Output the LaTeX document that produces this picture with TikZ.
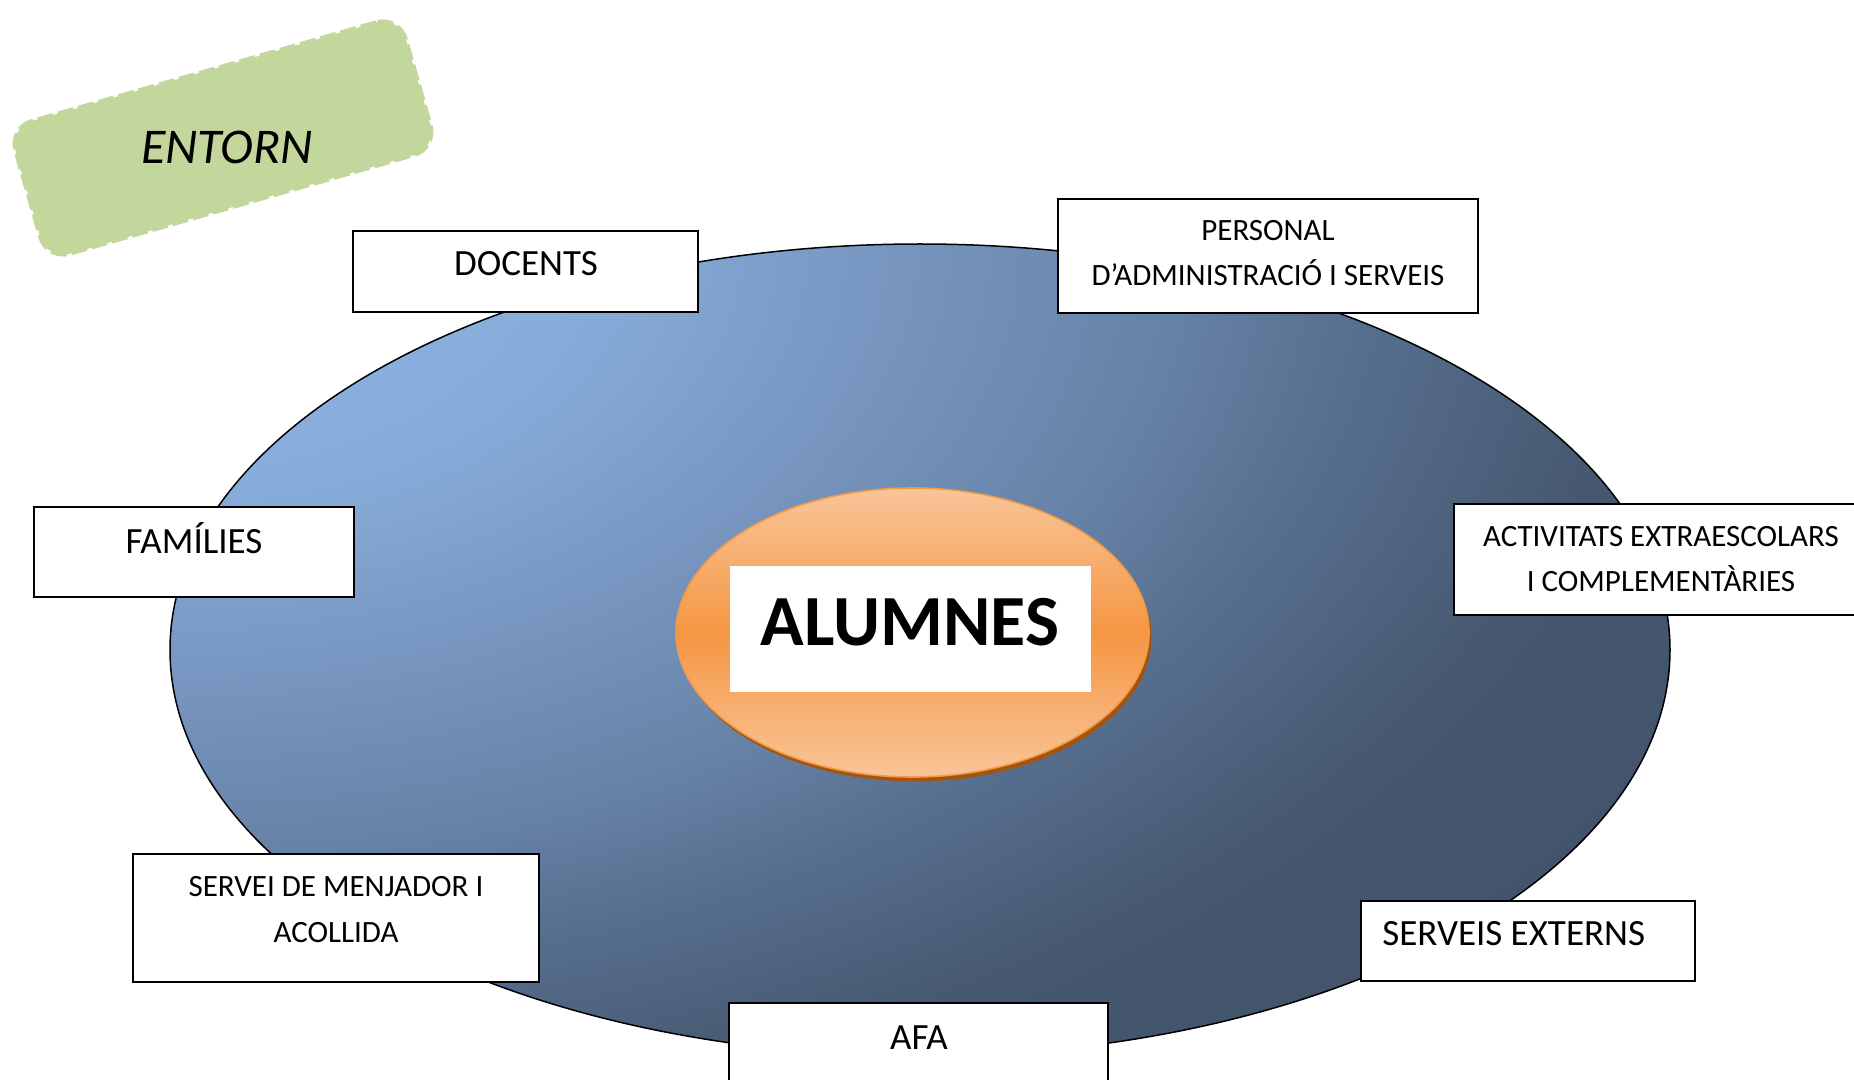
\documentclass[tikz,border=0pt]{standalone}
\usepackage{fontspec}
\setmainfont{Carlito}
\definecolor{bA}{HTML}{8DB3E2}
\definecolor{bB}{HTML}{88ADDB}
\definecolor{bC}{HTML}{7694BE}
\definecolor{bD}{HTML}{6682A6}
\definecolor{bE}{HTML}{566E8E}
\definecolor{bF}{HTML}{46586F}
\definecolor{bG}{HTML}{3E4F67}
\definecolor{oTop}{HTML}{F9C599}
\definecolor{oMid}{HTML}{F59643}
\definecolor{oLine}{HTML}{F19A48}
\definecolor{oShadow}{HTML}{A4540F}
\definecolor{entgreen}{HTML}{C3D69B}
\pgfdeclareradialshading{bigblue}{\pgfpointorigin}{color(0bp)=(bA); color(3.75bp)=(bB); color(6.9bp)=(bC); color(9.4bp)=(bD); color(11.25bp)=(bE); color(13.75bp)=(bF); color(18.75bp)=(bG); color(50bp)=(bG)}
\begin{document}
\begin{tikzpicture}[x=0.5pt,y=-0.5pt,
  box/.style={draw=black, line width=1pt, fill=white, inner sep=0pt},
  bigtxt/.style={font=\fontsize{18.5}{22}\selectfont, inner sep=0pt, anchor=base},
  smalltxt/.style={font=\fontsize{15.5}{22}\selectfont, inner sep=0pt, anchor=base}]
\useasboundingbox (0,0) rectangle (1854,1080);
\clip (0,0) rectangle (1854,1080);
% big ellipse
\begin{scope}
  \clip (920,650) ellipse [x radius=375pt, y radius=203pt];
  \shade[shading=bigblue] (170,244) ellipse [x radius=1339pt, y radius=812pt];
\end{scope}
\draw[line width=0.75pt] (920,650) ellipse [x radius=375pt, y radius=203pt];
% orange ellipse
\fill[oShadow] (915,637) ellipse [x radius=118.25pt, y radius=72.25pt];
\shade[top color=oTop, bottom color=oTop, middle color=oMid] (912.5,632.5) ellipse [x radius=118.25pt, y radius=72.25pt];
\draw[oLine, line width=0.8pt] (912.5,632.5) ellipse [x radius=118.25pt, y radius=72.25pt];
\node (alrect) [fill=white, minimum width=180.5pt, minimum height=63pt, inner sep=0pt] at (910.5,629) {};
\node (alumnes) [font=\bfseries\fontsize{36}{40}\selectfont, anchor=base, inner sep=0pt] at (910,646) {ALUMNES};
% ENTORN
\node (entornbox) [draw=entgreen, fill=entgreen, line width=2pt, dash pattern=on 8pt off 2.5pt, rounded corners=12pt, rotate=16, minimum width=203pt, minimum height=69pt, inner sep=0pt] at (223,138) {};
\node (entorn) [font=\itshape\fontsize{25}{30}\selectfont, anchor=base, inner sep=0pt] at (227,164) {ENTORN};
% boxes
\node (docentsbox) [box, minimum width=172.5pt, minimum height=40.5pt] at (525.5,271.5) {};
\node (docents) [bigtxt] at (526,276) {DOCENTS};
\node (personalbox) [box, minimum width=210pt, minimum height=57pt] at (1268,256) {};
\node (personalA) [smalltxt] at (1268,241) {PERSONAL};
\node (personalB) [smalltxt] at (1268,286) {D’ADMINISTRACIÓ I SERVEIS};
\node (familiesbox) [box, minimum width=160pt, minimum height=45pt] at (194,552) {};
\node (families) [bigtxt] at (194,554) {FAMÍLIES};
\node (activbox) [box, minimum width=206pt, minimum height=55.5pt] at (1660,559.5) {};
\node (activA) [smalltxt] at (1661,547) {ACTIVITATS EXTRAESCOLARS};
\node (activB) [smalltxt] at (1661,592) {I COMPLEMENTÀRIES};
\node (menjbox) [box, minimum width=203pt, minimum height=64pt] at (336,918) {};
\node (menjA) [smalltxt] at (336,896) {SERVEI DE MENJADOR I};
\node (menjB) [smalltxt] at (336,942) {ACOLLIDA};
\node (extbox) [box, minimum width=167pt, minimum height=40pt] at (1528,941) {};
\node (ext) [bigtxt, anchor=base west] at (1382,945) {SERVEIS EXTERNS};
\node (afabox) [box, minimum width=189.5pt, minimum height=48.5pt] at (918.5,1051.5) {};
\node (afa) [bigtxt] at (919,1049) {AFA};
\end{tikzpicture}
\end{document}
